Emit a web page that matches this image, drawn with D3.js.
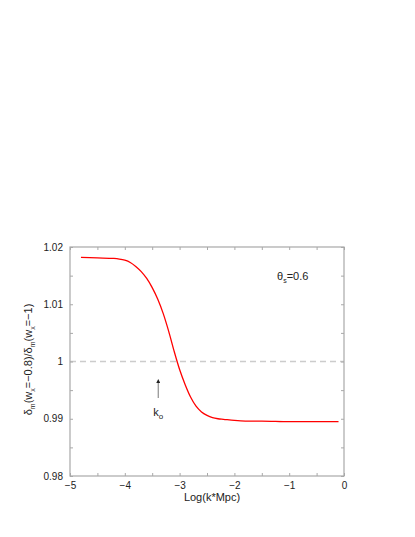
<!DOCTYPE html>
<html>
<head>
<meta charset="utf-8">
<script src="https://cdn.jsdelivr.net/npm/d3@7"></script>
<style>
  body { margin: 0; background: #fff; }
  text { font-family: "Liberation Sans", Arial, sans-serif; }
</style>
</head>
<body>
<div id="chart"></div>
<script>
// data
var logK = [-4.8, -4.5, -4.2, -4.1, -4.0, -3.9, -3.8, -3.7, -3.6, -3.5, -3.4, -3.3, -3.2, -3.1,
            -3.0, -2.9, -2.8, -2.7, -2.6, -2.5, -2.4, -2.3, -2.2, -2.0, -1.8, -1.5, -1.0, -0.5, -0.1];
var ratio = [1.0182, 1.0181, 1.0180, 1.0179, 1.0177, 1.0173, 1.0166, 1.0157, 1.0145, 1.0129, 1.0109, 1.0084, 1.0053, 1.0018,
             0.9986, 0.9960, 0.9938, 0.9922, 0.9912, 0.9906, 0.9902, 0.9900, 0.9899, 0.9897, 0.9896, 0.9896, 0.9895, 0.9895, 0.9895];
var xTicks = [-5, -4, -3, -2, -1, 0];
var xMinor = [-4.5, -3.5, -2.5, -1.5, -0.5];
var yTicks = [0.98, 0.99, 1, 1.01, 1.02];
var yMinor = [0.985, 0.995, 1.005, 1.015];
var refLine = 1;
var kO = -3.39;

var W = 415, H = 537;
var mLeft = 70, mRight = 344, mTop = 247, mBottom = 476;
var axisColor = "#a8a8a8";

var svg = d3.select("#chart").append("svg")
    .attr("width", W).attr("height", H);

var x = d3.scaleLinear().domain([-5, 0]).range([mLeft, mRight]);
var y = d3.scaleLinear().domain([0.98, 1.02]).range([mBottom, mTop]);

function styleAxis(g){
    g.select(".domain").remove();
    g.selectAll(".tick line").attr("stroke", axisColor);
    g.selectAll(".tick text").attr("fill", "#222").style("font-size", "10px");
}

//dashed reference line
svg.append("line")
    .attr("x1", x(-5)).attr("x2", x(0))
    .attr("y1", y(refLine)).attr("y2", y(refLine))
    .attr("stroke", "#cccccc")
    .attr("stroke-width", 1.5)
    .attr("stroke-dasharray", "6,4");

//axes, ticks pointing inward
svg.append("g").attr("transform", "translate(0," + mBottom + ")")
    .call(d3.axisBottom(x).tickValues(xTicks).tickSize(-3).tickPadding(6).tickFormat(d3.format("d")))
    .call(styleAxis);
svg.append("g").attr("transform", "translate(0," + mBottom + ")")
    .call(d3.axisBottom(x).tickValues(xMinor).tickSize(-3).tickFormat(""))
    .call(styleAxis);
svg.append("g").attr("transform", "translate(0," + mTop + ")")
    .call(d3.axisTop(x).tickValues(xTicks.concat(xMinor)).tickSize(-3).tickFormat(""))
    .call(styleAxis);

svg.append("g").attr("transform", "translate(" + mLeft + ",0)")
    .call(d3.axisLeft(y).tickValues(yTicks).tickSize(-3).tickPadding(7)
        .tickFormat(function(d){ return d == 1 ? "1" : d3.format(".2f")(d); }))
    .call(styleAxis);
svg.append("g").attr("transform", "translate(" + mLeft + ",0)")
    .call(d3.axisLeft(y).tickValues(yMinor).tickSize(-3).tickFormat(""))
    .call(styleAxis);
svg.append("g").attr("transform", "translate(" + mRight + ",0)")
    .call(d3.axisRight(y).tickValues(yTicks.concat(yMinor)).tickSize(-3).tickFormat(""))
    .call(styleAxis);

//frame
svg.append("rect")
    .attr("x", mLeft).attr("y", mTop)
    .attr("width", mRight - mLeft).attr("height", mBottom - mTop)
    .attr("fill", "none")
    .attr("stroke", axisColor)
    .attr("stroke-width", 1.2);

//the curve
var line = d3.line()
    .x(function(d, i){ return x(logK[i]); })
    .y(function(d){ return y(d); })
    .curve(d3.curveMonotoneX);
svg.append("path")
    .datum(ratio)
    .attr("d", line)
    .attr("fill", "none")
    .attr("stroke", "#ff0000")
    .attr("stroke-width", 1.3);

//arrow for k_o
svg.append("defs").append("marker")
    .attr("id", "head")
    .attr("viewBox", "0 0 10 10")
    .attr("refX", 5).attr("refY", 5)
    .attr("markerWidth", 5).attr("markerHeight", 5)
    .attr("orient", "auto")
  .append("path")
    .attr("d", "M0,0 L10,5 L0,10 z")
    .attr("fill", "#222");
svg.append("line")
    .attr("x1", x(kO)).attr("x2", x(kO))
    .attr("y1", 398).attr("y2", 381)
    .attr("stroke", "#555")
    .attr("stroke-width", 0.8)
    .attr("marker-end", "url(#head)");

var kl = svg.append("text")
    .attr("x", x(kO) - 5).attr("y", 416)
    .attr("fill", "#222")
    .style("font-size", "11px");
kl.append("tspan").text("k");
kl.append("tspan").attr("dy", 3).style("font-size", "8px").text("o");

//theta label
var th = svg.append("text")
    .attr("x", 277).attr("y", 280)
    .attr("fill", "#222")
    .style("font-size", "11px");
th.append("tspan").text("θ");
th.append("tspan").attr("dy", 3).style("font-size", "7px").text("s");
th.append("tspan").attr("dy", -3).text("=0.6");

//axis titles
svg.append("text")
    .attr("x", (mLeft + mRight) / 2 + 5).attr("y", 501)
    .attr("text-anchor", "middle")
    .attr("fill", "#222")
    .style("font-size", "11px")
    .text("Log(k*Mpc)");

var yt = svg.append("text")
    .attr("transform", "translate(32," + ((mTop + mBottom) / 2 - 2) + ") rotate(-90)")
    .attr("text-anchor", "middle")
    .attr("fill", "#222")
    .style("font-size", "11px");
yt.append("tspan").text("δ");
yt.append("tspan").attr("dy", 3).style("font-size", "7px").text("m");
yt.append("tspan").attr("dy", -3).text("(w");
yt.append("tspan").attr("dy", 3).style("font-size", "7px").text("x");
yt.append("tspan").attr("dy", -3).text("=−0.8)/δ");
yt.append("tspan").attr("dy", 3).style("font-size", "7px").text("m");
yt.append("tspan").attr("dy", -3).text("(w");
yt.append("tspan").attr("dy", 3).style("font-size", "7px").text("x");
yt.append("tspan").attr("dy", -3).text("=−1)");
</script>
</body>
</html>
